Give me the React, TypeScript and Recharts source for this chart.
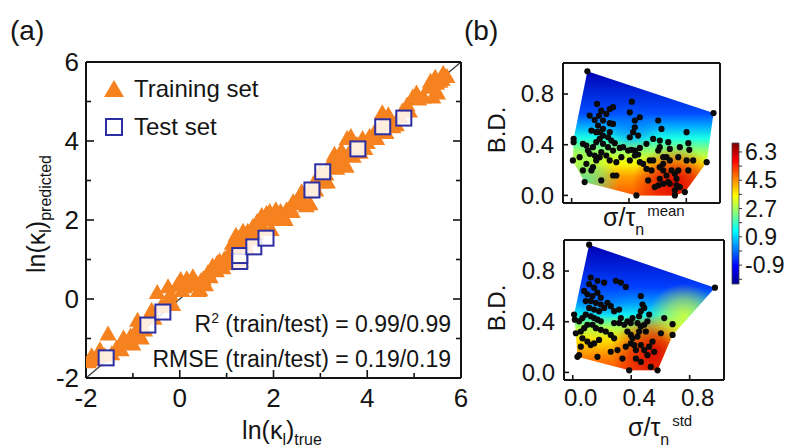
import React from 'react'
import {
  ScatterChart,
  Scatter,
  XAxis,
  YAxis,
  ReferenceLine,
  ReferenceArea,
  Legend,
} from 'recharts'

const FONT = '"Liberation Sans", Arial, Helvetica, sans-serif'
const INK = '#141414'

// ---- panel (a): parity plot ----
const trainingSet = [
  { x: -1.95, y: -1.6 }, { x: -1.88, y: -1.45 }, { x: -1.8, y: -1.55 }, { x: -1.72, y: -1.35 },
  { x: -1.53, y: -0.9 }, { x: -1.45, y: -1.4 }, { x: -1.35, y: -1.25 }, { x: -1.25, y: -1.3 },
  { x: -1.15, y: -1.1 }, { x: -1.05, y: -0.95 }, { x: -0.95, y: -0.85 }, { x: -0.9, y: -0.55 },
  { x: -0.82, y: -1.0 }, { x: -0.75, y: -0.8 }, { x: -0.65, y: -0.45 }, { x: -0.55, y: -0.5 },
  { x: -0.48, y: 0.15 }, { x: -0.4, y: -0.2 }, { x: -0.3, y: -0.1 }, { x: -0.15, y: -0.15 },
  { x: -0.05, y: 0.35 }, { x: 0.02, y: 0.48 }, { x: 0.1, y: 0.3 }, { x: 0.18, y: 0.42 },
  { x: 0.28, y: 0.55 }, { x: 0.35, y: 0.4 }, { x: 0.43, y: 0.22 }, { x: 0.5, y: 0.5 },
  { x: 0.6, y: 0.65 }, { x: 0.7, y: 0.82 }, { x: 0.78, y: 0.7 }, { x: 0.85, y: 0.95 },
  { x: 0.92, y: 0.78 }, { x: 1.0, y: 0.88 }, { x: 1.05, y: 1.1 }, { x: 1.12, y: 1.4 },
  { x: 1.18, y: 1.2 }, { x: 1.25, y: 1.35 }, { x: 1.3, y: 1.55 }, { x: 1.38, y: 1.45 },
  { x: 1.45, y: 1.7 }, { x: 1.5, y: 1.55 }, { x: 1.56, y: 1.82 }, { x: 1.62, y: 1.65 },
  { x: 1.7, y: 1.95 }, { x: 1.78, y: 1.75 }, { x: 1.85, y: 2.15 }, { x: 1.92, y: 2.2 },
  { x: 1.95, y: 1.75 }, { x: 2.0, y: 2.05 }, { x: 2.08, y: 2.0 }, { x: 2.15, y: 2.2 },
  { x: 2.2, y: 2.1 }, { x: 2.28, y: 2.25 }, { x: 2.35, y: 2.3 }, { x: 2.42, y: 2.45 },
  { x: 2.5, y: 2.4 }, { x: 2.56, y: 2.55 }, { x: 2.62, y: 2.5 }, { x: 2.7, y: 2.35 },
  { x: 2.75, y: 2.7 }, { x: 2.85, y: 2.9 }, { x: 2.95, y: 3.0 }, { x: 3.05, y: 2.95 },
  { x: 3.12, y: 3.15 }, { x: 3.2, y: 3.4 }, { x: 3.28, y: 3.52 }, { x: 3.35, y: 3.3 },
  { x: 3.42, y: 3.55 }, { x: 3.5, y: 3.45 }, { x: 3.57, y: 4.05 }, { x: 3.62, y: 3.7 },
  { x: 3.7, y: 3.6 }, { x: 3.78, y: 3.9 }, { x: 3.9, y: 4.05 }, { x: 3.95, y: 3.8 },
  { x: 4.05, y: 4.1 }, { x: 4.15, y: 4.2 }, { x: 4.25, y: 4.3 }, { x: 4.32, y: 4.7 },
  { x: 4.4, y: 4.2 }, { x: 4.5, y: 4.5 }, { x: 4.62, y: 4.4 }, { x: 4.75, y: 4.75 },
  { x: 4.85, y: 4.9 }, { x: 4.97, y: 5.1 }, { x: 5.1, y: 5.05 }, { x: 5.3, y: 5.35 },
  { x: 5.4, y: 5.1 }, { x: 5.48, y: 5.45 }, { x: 5.55, y: 5.5 }, { x: 5.62, y: 5.7 },
  { x: 5.7, y: 5.62 }, { x: 1.3, y: 0.95 }, { x: 0.4, y: 0.2 }, { x: -1.7, y: -1.3 },
  { x: -1.6, y: -1.45 }, { x: -1.2, y: -1.0 }, { x: -0.6, y: -0.3 }, { x: -0.2, y: 0.1 },
  { x: 0.05, y: 0.2 }, { x: 0.15, y: 0.5 }, { x: 0.25, y: 0.35 }, { x: 0.45, y: 0.45 },
  { x: 0.55, y: 0.35 }, { x: 0.65, y: 0.55 }, { x: 0.8, y: 0.9 }, { x: 0.95, y: 1.0 },
  { x: 1.1, y: 1.25 }, { x: 1.2, y: 1.6 }, { x: 1.35, y: 1.7 }, { x: 1.42, y: 1.3 },
  { x: 1.55, y: 1.5 }, { x: 1.65, y: 1.95 }, { x: 1.75, y: 2.1 }, { x: 1.9, y: 2.0 },
  { x: 2.05, y: 2.25 }, { x: 2.25, y: 2.0 }, { x: 2.4, y: 2.2 }, { x: 2.6, y: 2.7 },
  { x: 2.78, y: 2.4 }, { x: 2.9, y: 2.75 }, { x: 3.0, y: 3.2 }, { x: 3.15, y: 2.95 },
  { x: 3.3, y: 3.65 }, { x: 3.45, y: 3.75 }, { x: 3.55, y: 3.35 }, { x: 3.65, y: 4.1 },
  { x: 3.85, y: 3.7 }, { x: 4.0, y: 3.95 }, { x: 4.2, y: 4.05 }, { x: 4.35, y: 4.45 },
  { x: 4.45, y: 4.65 }, { x: 4.55, y: 4.35 }, { x: 4.7, y: 4.6 }, { x: 4.9, y: 4.75 },
  { x: 5.05, y: 5.2 }, { x: 5.2, y: 5.1 }, { x: 5.35, y: 5.5 }, { x: 5.5, y: 5.2 },
  { x: 5.45, y: 5.6 }, { x: 5.6, y: 5.55 }, { x: -1.0, y: -1.15 }, { x: -0.85, y: -0.7 },
  { x: -0.25, y: 0.3 },
]

const testSet = [
  { x: -1.57, y: -1.49 }, { x: -0.68, y: -0.66 }, { x: -0.36, y: -0.33 },
  { x: 1.28, y: 0.95 }, { x: 1.28, y: 1.1 }, { x: 1.58, y: 1.32 },
  { x: 1.84, y: 1.54 }, { x: 2.82, y: 2.76 }, { x: 3.05, y: 3.22 },
  { x: 3.8, y: 3.8 }, { x: 4.33, y: 4.36 }, { x: 4.78, y: 4.58 },
]

const parityEnds = [{ x: -2, y: -2 }, { x: 6, y: 6 }]
const ticksA = [-2, -1, 0, 1, 2, 3, 4, 5, 6]
const labelsA = [-2, 0, 2, 4, 6]
const domainA: [number, number] = [-2, 6]

// ---- panel (b): feature maps ----
const meanDots = [
  { x: 0.11, y: 0.98 }, { x: 0.42, y: 0.74 }, { x: 0.99, y: 0.65 }, { x: 0.177, y: 0.722 },
  { x: 0.266, y: 0.682 }, { x: 0.289, y: 0.696 }, { x: 0.207, y: 0.669 }, { x: 0.242, y: 0.643 },
  { x: 0.126, y: 0.63 }, { x: 0.191, y: 0.63 }, { x: 0.161, y: 0.596 }, { x: 0.219, y: 0.591 },
  { x: 0.266, y: 0.57 }, { x: 0.406, y: 0.656 }, { x: 0.441, y: 0.591 }, { x: 0.476, y: 0.617 },
  { x: 0.604, y: 0.591 }, { x: 0.627, y: 0.525 }, { x: 0.441, y: 0.538 }, { x: 0.429, y: 0.499 },
  { x: 0.464, y: 0.472 }, { x: 0.406, y: 0.459 }, { x: 0.138, y: 0.512 }, { x: 0.219, y: 0.525 },
  { x: 0.266, y: 0.499 }, { x: 0.254, y: 0.459 }, { x: 0.196, y: 0.446 }, { x: 0.172, y: 0.42 },
  { x: 0.149, y: 0.381 }, { x: 0.219, y: 0.407 }, { x: 0.277, y: 0.433 }, { x: 0.301, y: 0.412 },
  { x: 0.336, y: 0.375 }, { x: 0.347, y: 0.302 }, { x: 0.394, y: 0.354 }, { x: 0.417, y: 0.36 },
  { x: 0.441, y: 0.354 }, { x: 0.476, y: 0.375 }, { x: 0.464, y: 0.323 }, { x: 0.522, y: 0.407 },
  { x: 0.569, y: 0.446 }, { x: 0.615, y: 0.433 }, { x: 0.604, y: 0.354 }, { x: 0.639, y: 0.302 },
  { x: 0.674, y: 0.42 }, { x: 0.685, y: 0.367 }, { x: 0.755, y: 0.381 }, { x: 0.802, y: 0.499 },
  { x: 0.814, y: 0.412 }, { x: 0.821, y: 0.36 }, { x: 0.848, y: 0.276 }, { x: 0.744, y: 0.302 },
  { x: 0.685, y: 0.276 }, { x: 0.662, y: 0.302 }, { x: 0.545, y: 0.276 }, { x: 0.499, y: 0.249 },
  { x: 0.476, y: 0.262 }, { x: 0.441, y: 0.315 }, { x: 0.522, y: 0.21 }, { x: 0.557, y: 0.197 },
  { x: 0.534, y: 0.118 }, { x: 0.615, y: 0.223 }, { x: 0.639, y: 0.197 }, { x: 0.662, y: 0.157 },
  { x: 0.697, y: 0.197 }, { x: 0.72, y: 0.171 }, { x: 0.732, y: 0.131 }, { x: 0.615, y: 0.131 },
  { x: 0.604, y: 0.079 }, { x: 0.58, y: 0.066 }, { x: 0.639, y: 0.092 }, { x: 0.685, y: 0.092 },
  { x: 0.732, y: 0.079 }, { x: 0.72, y: 0.039 }, { x: 0.755, y: 0.066 }, { x: 0.72, y: 0.0 },
  { x: 0.79, y: 0.026 }, { x: 0.814, y: 0.197 }, { x: 0.942, y: 0.262 }, { x: 0.452, y: 0.0 },
  { x: 0.289, y: 0.157 }, { x: 0.312, y: 0.157 }, { x: 0.207, y: 0.118 }, { x: 0.091, y: 0.105 },
  { x: 0.079, y: 0.197 }, { x: 0.103, y: 0.249 }, { x: 0.138, y: 0.197 }, { x: 0.149, y: 0.223 },
  { x: 0.172, y: 0.276 }, { x: 0.196, y: 0.302 }, { x: 0.126, y: 0.328 }, { x: 0.161, y: 0.315 },
  { x: 0.207, y: 0.341 }, { x: 0.242, y: 0.315 }, { x: 0.266, y: 0.276 }, { x: 0.289, y: 0.354 },
  { x: 0.312, y: 0.262 }, { x: 0.056, y: 0.302 }, { x: 0.009, y: 0.276 }, { x: 0.014, y: 0.446 },
  { x: 0.014, y: 0.42 }, { x: 0.079, y: 0.407 }, { x: 0.103, y: 0.394 }, { x: 0.114, y: 0.354 },
  { x: 0.196, y: 0.499 }, { x: 0.289, y: 0.564 }, { x: 0.184, y: 0.551 }, { x: 0.172, y: 0.499 },
  { x: 0.219, y: 0.472 }, { x: 0.254, y: 0.381 }, { x: 0.359, y: 0.381 }, { x: 0.569, y: 0.276 },
  { x: 0.406, y: 0.276 }, { x: 0.674, y: 0.105 }, { x: 0.639, y: 0.249 }, { x: 0.615, y: 0.381 },
  { x: 0.744, y: 0.197 }, { x: 0.802, y: 0.276 },
]

const meanHull = [
  { x: 0.11, y: 0.98 }, { x: 0.99, y: 0.65 }, { x: 0.942, y: 0.262 }, { x: 0.79, y: 0.026 },
  { x: 0.72, y: 0.0 }, { x: 0.452, y: 0.0 }, { x: 0.091, y: 0.105 }, { x: 0.009, y: 0.276 },
  { x: 0.014, y: 0.446 },
]

const stdDots = [
  { x: 0.112, y: 1.008 }, { x: 0.973, y: 0.669 }, { x: 0.123, y: 0.749 }, { x: 0.169, y: 0.723 },
  { x: 0.215, y: 0.709 }, { x: 0.295, y: 0.723 }, { x: 0.329, y: 0.709 }, { x: 0.363, y: 0.675 },
  { x: 0.112, y: 0.696 }, { x: 0.146, y: 0.669 }, { x: 0.1, y: 0.616 }, { x: 0.135, y: 0.603 },
  { x: 0.169, y: 0.629 }, { x: 0.192, y: 0.589 }, { x: 0.089, y: 0.563 }, { x: 0.123, y: 0.563 },
  { x: 0.158, y: 0.549 }, { x: 0.192, y: 0.536 }, { x: 0.237, y: 0.549 }, { x: 0.112, y: 0.509 },
  { x: 0.146, y: 0.496 }, { x: 0.18, y: 0.483 }, { x: 0.215, y: 0.509 }, { x: 0.26, y: 0.523 },
  { x: 0.283, y: 0.483 }, { x: 0.317, y: 0.496 }, { x: 0.466, y: 0.603 }, { x: 0.477, y: 0.536 },
  { x: 0.489, y: 0.509 }, { x: 0.466, y: 0.483 }, { x: 0.454, y: 0.443 }, { x: 0.329, y: 0.429 },
  { x: 0.283, y: 0.389 }, { x: 0.317, y: 0.389 }, { x: 0.352, y: 0.376 }, { x: 0.374, y: 0.403 },
  { x: 0.397, y: 0.389 }, { x: 0.409, y: 0.429 }, { x: 0.443, y: 0.389 }, { x: 0.466, y: 0.363 },
  { x: 0.489, y: 0.376 }, { x: 0.511, y: 0.403 }, { x: 0.523, y: 0.456 }, { x: 0.374, y: 0.323 },
  { x: 0.397, y: 0.296 }, { x: 0.409, y: 0.269 }, { x: 0.443, y: 0.283 }, { x: 0.454, y: 0.323 },
  { x: 0.5, y: 0.323 }, { x: 0.283, y: 0.269 }, { x: 0.26, y: 0.296 }, { x: 0.226, y: 0.323 },
  { x: 0.192, y: 0.336 }, { x: 0.158, y: 0.349 }, { x: 0.135, y: 0.376 }, { x: 0.1, y: 0.376 },
  { x: 0.078, y: 0.349 }, { x: 0.055, y: 0.323 }, { x: 0.021, y: 0.309 }, { x: 0.009, y: 0.456 },
  { x: 0.014, y: 0.416 }, { x: 0.043, y: 0.403 }, { x: 0.066, y: 0.429 }, { x: 0.089, y: 0.456 },
  { x: 0.123, y: 0.443 }, { x: 0.146, y: 0.429 }, { x: 0.169, y: 0.416 }, { x: 0.192, y: 0.403 },
  { x: 0.066, y: 0.269 }, { x: 0.1, y: 0.243 }, { x: 0.123, y: 0.216 }, { x: 0.146, y: 0.229 },
  { x: 0.18, y: 0.256 }, { x: 0.055, y: 0.203 }, { x: 0.043, y: 0.136 }, { x: 0.032, y: 0.123 },
  { x: 0.169, y: 0.123 }, { x: 0.26, y: 0.163 }, { x: 0.306, y: 0.176 }, { x: 0.363, y: 0.203 },
  { x: 0.397, y: 0.229 }, { x: 0.42, y: 0.216 }, { x: 0.432, y: 0.176 }, { x: 0.466, y: 0.216 },
  { x: 0.489, y: 0.176 }, { x: 0.523, y: 0.203 }, { x: 0.546, y: 0.243 }, { x: 0.603, y: 0.309 },
  { x: 0.626, y: 0.429 }, { x: 0.683, y: 0.381 }, { x: 0.683, y: 0.296 }, { x: 0.58, y: 0.016 },
  { x: 0.386, y: 0.016 }, { x: 0.34, y: 0.109 }, { x: 0.432, y: 0.109 }, { x: 0.466, y: 0.083 },
  { x: 0.534, y: 0.043 }, { x: 0.511, y: 0.136 }, { x: 0.557, y: 0.163 }, { x: 0.078, y: 0.643 },
]

const stdHull = [
  { x: 0.112, y: 1.008 }, { x: 0.973, y: 0.669 }, { x: 0.683, y: 0.296 }, { x: 0.58, y: 0.016 },
  { x: 0.386, y: 0.016 }, { x: 0.032, y: 0.123 }, { x: 0.021, y: 0.309 }, { x: 0.009, y: 0.456 },
]

const ticksB = [0, 0.4, 0.8]
const domainBx: [number, number] = [-0.06, 1.035]
const domainBy: [number, number] = [-0.06, 1.045]

// colour bar
const colorRange = [-2.1, 6.87]
const colorTicks = [-1.8, -0.9, 0, 0.9, 1.8, 2.7, 3.6, 4.5, 5.4, 6.3]
const colorLabels = [-0.9, 0.9, 2.7, 4.5, 6.3]

const jetStops = [
  ['0', '#00008f'], ['0.125', '#0000ff'], ['0.375', '#00ffff'],
  ['0.625', '#ffff00'], ['0.875', '#ff0000'], ['1', '#800000'],
]

const has = (list: number[], v: number) => list.some((m) => Math.abs(m - v) < 1e-6)

// ticks drawn inside the frame, labels outside
function makeTick(side: string, o: { labels?: number[]; major?: number[]; big: number; small: number; size: number; gap: number; shift?: number; fmt?: (v: number) => string }) {
  return (props: any) => {
    const { x, y, payload } = props
    const v = payload.value
    const len = !o.major || has(o.major, v) ? o.big : o.small
    const show = o.labels && has(o.labels, v)
    const txt = o.fmt ? o.fmt(v) : String(v)
    const st = { fill: INK, fontSize: o.size, fontFamily: FONT }
    if (side === 'bottom')
      return (
        <g>
          {len > 0 && <line x1={x} x2={x} y1={y} y2={y - len} stroke={INK} strokeWidth={1.6} />}
          {show && <text x={x + (o.shift || 0)} y={y + o.gap + o.size * 0.72} textAnchor="middle" {...st}>{txt}</text>}
        </g>
      )
    if (side === 'top')
      return <g>{len > 0 && <line x1={x} x2={x} y1={y} y2={y + len} stroke={INK} strokeWidth={1.6} />}</g>
    if (side === 'left')
      return (
        <g>
          {len > 0 && <line x1={x} x2={x + len} y1={y} y2={y} stroke={INK} strokeWidth={1.6} />}
          {show && <text x={x - o.gap} y={y + o.size * 0.34} textAnchor="end" {...st}>{txt}</text>}
        </g>
      )
    return (
      <g>
        {len > 0 && <line x1={x} x2={x - len} y1={y} y2={y} stroke={INK} strokeWidth={1.6} />}
      </g>
    )
  }
}

const ColorTick = (props: any) => {
  const { x, y, payload } = props
  const v = payload.value
  return (
    <g>
      <line x1={x} x2={x + 3} y1={y} y2={y} stroke="#333" strokeWidth={1} />
      {has(colorLabels, v) && (
        <text x={x + 6} y={y + 8} fontSize={23} fontFamily={FONT} fill={INK}>
          {v.toFixed(1)}
        </text>
      )}
    </g>
  )
}

const Triangle = (p: any) => (
  <polygon points={`${p.cx},${p.cy - 9} ${p.cx + 8.5},${p.cy + 6} ${p.cx - 8.5},${p.cy + 6}`} fill="#F5821F" />
)
const Square = (p: any) => (
  <rect x={p.cx - 7.5} y={p.cy - 7.5} width={15} height={15} fill="#ffffff" fillOpacity={0.85} stroke="#2E2EA3" strokeWidth={2} />
)
const Dot = (p: any) => <circle cx={p.cx} cy={p.cy} r={3.1} fill="#0a0a0a" />
const NoMark = () => <g />

type Blob = { cx: number; cy: number; r: number; color: string; op: number }

// interpolated surface: hull polygon with a vertical ramp and a few blobs
function heatSurface(id: string, ramp: string[][], blobs: Blob[]) {
  return (props: any) => {
    const pts = (props.points || []).map((p: any) => `${p.x},${p.y}`).join(' ')
    return (
      <g>
        <defs>
          <linearGradient id={`${id}-ramp`} x1="0" y1="0" x2="0" y2="1">
            {ramp.map(([o, c]) => <stop key={o} offset={o} stopColor={c} />)}
          </linearGradient>
          {blobs.map((b, i) => (
            <radialGradient key={i} id={`${id}-b${i}`} cx={b.cx} cy={b.cy} r={b.r}>
              <stop offset="0" stopColor={b.color} stopOpacity={b.op} />
              <stop offset="0.5" stopColor={b.color} stopOpacity={b.op * 0.6} />
              <stop offset="1" stopColor={b.color} stopOpacity={0} />
            </radialGradient>
          ))}
        </defs>
        <polygon points={pts} fill={`url(#${id}-ramp)`} />
        {blobs.map((b, i) => <polygon key={i} points={pts} fill={`url(#${id}-b${i})`} />)}
      </g>
    )
  }
}

const meanRamp = [
  ['0', '#0000b3'], ['0.34', '#004dff'], ['0.44', '#00a8ff'], ['0.54', '#1affe6'],
  ['0.64', '#94ff6b'], ['0.74', '#faff05'], ['0.85', '#ff9e00'], ['1', '#ff5a00'],
]
const stdRamp = [
  ['0', '#0000b3'], ['0.34', '#0040ff'], ['0.46', '#0098ff'], ['0.56', '#10f0f0'],
  ['0.66', '#b0ff50'], ['0.76', '#ffe000'], ['0.9', '#ff8000'], ['1', '#ff5000'],
]

const meanSurface = heatSurface('mean', meanRamp, [
  { cx: 0.72, cy: 0.9, r: 0.3, color: '#e00000', op: 0.95 },
  { cx: 0.08, cy: 0.88, r: 0.25, color: '#40ffb0', op: 0.8 },
  { cx: 0.42, cy: 0.45, r: 0.2, color: '#0060ff', op: 0.5 },
])
const stdSurface = heatSurface('std', stdRamp, [
  { cx: 0.56, cy: 0.85, r: 0.3, color: '#d80000', op: 0.95 },
  { cx: 0.78, cy: 0.56, r: 0.25, color: '#f0ff20', op: 0.8 },
  { cx: 0.2, cy: 0.4, r: 0.2, color: '#0050ff', op: 0.45 },
])

const frame = { stroke: INK, strokeWidth: 2 }

const LegendBox = () => (
  <div style={{ fontFamily: FONT, fontSize: 24, color: INK, lineHeight: '38px' }}>
    <div style={{ display: 'flex', alignItems: 'center' }}>
      <svg width={30} height={20}>
        <polygon points="10,1 20,18 0,18" fill="#F5821F" />
      </svg>
      <span>Training set</span>
    </div>
    <div style={{ display: 'flex', alignItems: 'center' }}>
      <svg width={30} height={20}>
        <rect x={2} y={2} width={16} height={16} fill="none" stroke="#2E2EA3" strokeWidth={2} />
      </svg>
      <span>Test set</span>
    </div>
  </div>
)

function FeatureMap({ dots, hull, surface, width, height, margin, yw, xh, bottomLabels }: any) {
  return (
    <ScatterChart width={width} height={height} margin={margin}>
      <XAxis type="number" dataKey="x" domain={domainBx} ticks={ticksB} interval={0} allowDataOverflow height={xh}
        axisLine={frame} tickLine={false} tickSize={0} tickMargin={0}
        tick={makeTick('bottom', { labels: bottomLabels ? ticksB : [], big: 5, small: 5, size: 24, gap: 9, shift: 8, fmt: (v) => v.toFixed(1) })} />
      <XAxis xAxisId="top" orientation="top" type="number" domain={domainBx} ticks={ticksB} allowDataOverflow height={1}
        axisLine={frame} tickLine={false} tickSize={0} tickMargin={0} tick={NoMark} />
      <YAxis type="number" dataKey="y" domain={domainBy} ticks={ticksB} interval={0} allowDataOverflow width={yw}
        axisLine={frame} tickLine={false} tickSize={0} tickMargin={0}
        tick={makeTick('left', { labels: ticksB, big: 5, small: 5, size: 24, gap: 9, fmt: (v) => v.toFixed(1) })} />
      <YAxis yAxisId="right" orientation="right" type="number" domain={domainBy} ticks={ticksB} allowDataOverflow width={1}
        axisLine={frame} tickLine={false} tickSize={0} tickMargin={0} tick={NoMark} />
      <Scatter data={hull} shape={NoMark} line={surface} isAnimationActive={false} legendType="none" />
      <Scatter data={dots} shape={Dot} isAnimationActive={false} legendType="none" />
    </ScatterChart>
  )
}

export default function App() {
  return (
    <div style={{ position: 'absolute', left: 0, top: 0, width: 787, height: 448, background: '#fff', fontFamily: FONT }}>
      <div style={{ position: 'absolute', left: 0, top: 0 }}>
        <ScatterChart width={470} height={448} margin={{ top: 61, right: 8, bottom: 0, left: 0 }}>
          <XAxis type="number" dataKey="x" domain={domainA} ticks={ticksA} interval={0} allowDataOverflow height={70}
            axisLine={frame} tickLine={false} tickSize={0} tickMargin={0}
            tick={makeTick('bottom', { labels: labelsA, major: labelsA, big: 8, small: 5, size: 26, gap: 10 })} />
          <XAxis xAxisId="top" orientation="top" type="number" domain={domainA} ticks={ticksA} interval={0} allowDataOverflow height={1}
            axisLine={frame} tickLine={false} tickSize={0} tickMargin={0}
            tick={makeTick('top', { major: labelsA, big: 8, small: 5, size: 26, gap: 4 })} />
          <YAxis type="number" dataKey="y" domain={domainA} ticks={ticksA} interval={0} allowDataOverflow width={86}
            axisLine={frame} tickLine={false} tickSize={0} tickMargin={0}
            tick={makeTick('left', { labels: labelsA, major: labelsA, big: 8, small: 5, size: 26, gap: 7 })} />
          <YAxis yAxisId="right" orientation="right" type="number" domain={domainA} ticks={ticksA} interval={0} allowDataOverflow width={1}
            axisLine={frame} tickLine={false} tickSize={0} tickMargin={0}
            tick={makeTick('right', { major: labelsA, big: 8, small: 5, size: 26, gap: 4 })} />
          <Legend layout="vertical" align="center" verticalAlign="middle" content={LegendBox}
            wrapperStyle={{ left: 104, top: 70, width: 220 }} />
          <Scatter name="Training set" data={trainingSet} shape={Triangle} isAnimationActive={false} />
          <Scatter name="Test set" data={testSet} shape={Square} isAnimationActive={false} />
          <ReferenceLine segment={parityEnds} stroke="#3a3a3a" strokeWidth={1.3} ifOverflow="extendDomain" />
        </ScatterChart>
      </div>

      <div style={{ position: 'absolute', left: 470, top: 0 }}>
        <FeatureMap dots={meanDots} hull={meanHull} surface={meanSurface} width={260} height={230}
          margin={{ top: 62, right: 9, bottom: 0, left: 0 }} yw={93} xh={27} bottomLabels={false} />
      </div>
      <div style={{ position: 'absolute', left: 470, top: 230 }}>
        <FeatureMap dots={stdDots} hull={stdHull} surface={stdSurface} width={260} height={218}
          margin={{ top: 9, right: 5, bottom: 0, left: 0 }} yw={94} xh={68} bottomLabels />
      </div>

      <div style={{ position: 'absolute', left: 725, top: 130 }}>
        <ScatterChart width={62} height={165} margin={{ top: 13, right: 0, bottom: 11, left: 7 }}>
          <defs>
            <linearGradient id="jet" x1="0" y1="1" x2="0" y2="0">
              {jetStops.map(([o, c]) => <stop key={o} offset={o} stopColor={c} />)}
            </linearGradient>
          </defs>
          <XAxis type="number" dataKey="x" domain={[0, 1]} hide allowDataOverflow />
          <YAxis type="number" dataKey="y" orientation="right" width={48} domain={colorRange} ticks={colorTicks} interval={0}
            allowDataOverflow axisLine={false} tickLine={false} tickSize={0} tickMargin={0} tick={ColorTick} />
          <ReferenceArea y1={colorRange[0]} y2={colorRange[1]} fill="url(#jet)" fillOpacity={1} stroke="#444" strokeWidth={0.8} ifOverflow="visible" />
        </ScatterChart>
      </div>

      <svg width={787} height={448} style={{ position: 'absolute', left: 0, top: 0, pointerEvents: 'none' }} fontFamily={FONT} fill={INK}>
        <text x={10} y={40} fontSize={28}>(a)</text>
        <text x={464} y={40} fontSize={28}>(b)</text>

        <text transform="rotate(-90 45 214)" x={45} y={214} textAnchor="middle" fontSize={25}>
          ln(κ<tspan fontSize={16} dy={6}>l</tspan><tspan dy={-6}>)</tspan><tspan fontSize={16} dy={6}>predicted</tspan>
        </text>
        <text x={282} y={439} textAnchor="middle" fontSize={25}>
          ln(κ<tspan fontSize={16} dy={6}>l</tspan><tspan dy={-6}>)</tspan><tspan fontSize={16} dy={6}>true</tspan>
        </text>

        <text x={451} y={332} textAnchor="end" fontSize={23}>
          R<tspan fontSize={14} dy={-9}>2</tspan><tspan dy={9}> (train/test) = 0.99/0.99</tspan>
        </text>
        <text x={451} y={367} textAnchor="end" fontSize={23}>RMSE (train/test) = 0.19/0.19</text>

        <text transform="rotate(-90 505 130)" x={505} y={130} textAnchor="middle" fontSize={24}>B.D.</text>
        <text transform="rotate(-90 505 308)" x={505} y={308} textAnchor="middle" fontSize={24}>B.D.</text>

        <text x={603} y={226} fontSize={25}>
          σ/τ<tspan fontSize={16} dy={9}>n</tspan><tspan fontSize={15} dx={3} dy={-19}>mean</tspan>
        </text>
        <text x={628} y={436} fontSize={25}>
          σ/τ<tspan fontSize={16} dy={9}>n</tspan><tspan fontSize={15} dx={3} dy={-19}>std</tspan>
        </text>
      </svg>
    </div>
  )
}
